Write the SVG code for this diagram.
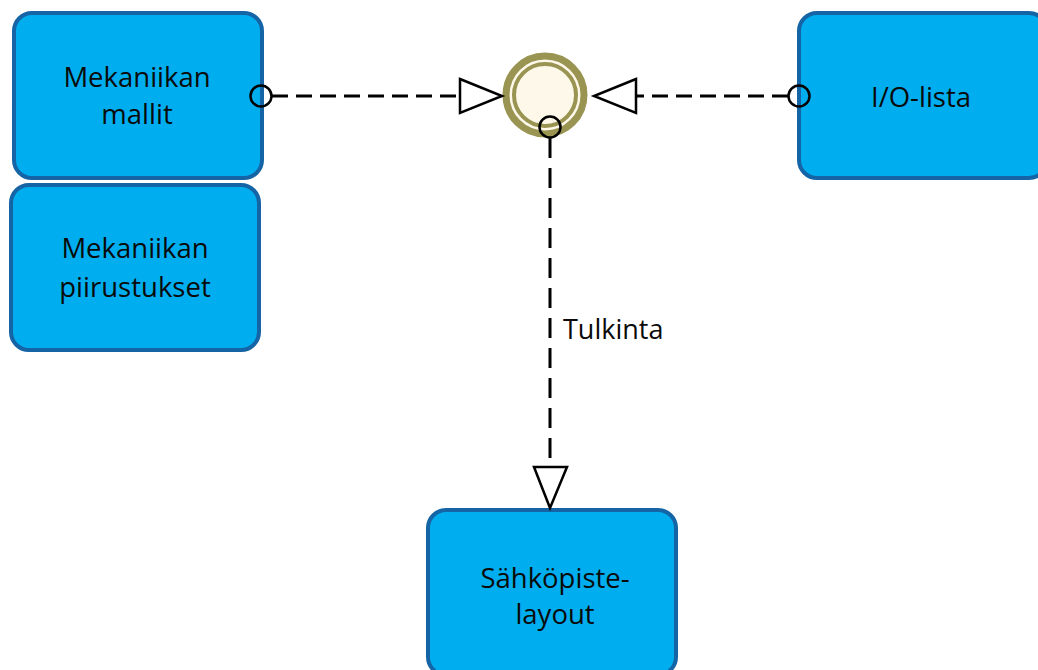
<svg xmlns="http://www.w3.org/2000/svg" width="1038" height="670" viewBox="0 0 1038 670">
<style>
.box{fill:#00AEEF;stroke:#1565A6;stroke-width:4}
.t{font-family:"Open Sans","Noto Sans",sans-serif;font-size:27.5px;fill:#0a0a0a;text-anchor:middle}
.lbl{font-family:"Open Sans","Noto Sans",sans-serif;font-size:27px;fill:#0a0a0a}
.dash{stroke:#000;stroke-width:3;fill:none}
.end{fill:none;stroke:#000;stroke-width:2.5}
.head{fill:#fff;stroke:#000;stroke-width:2.5;stroke-linejoin:miter}
</style>
<rect width="1038" height="670" fill="#fff"/>
<g id="node-mekaniikan-mallit">
<rect class="box" x="14" y="13" width="248" height="165" rx="18"/>
<text class="t" x="137" y="87">Mekaniikan</text>
<text class="t" x="137" y="124">mallit</text>
</g>
<g id="node-mekaniikan-piirustukset">
<rect class="box" x="11" y="185" width="248" height="165" rx="18"/>
<text class="t" x="135" y="258">Mekaniikan</text>
<text class="t" x="135" y="297">piirustukset</text>
</g>
<g id="node-io-lista">
<rect class="box" x="799" y="13" width="248" height="165" rx="18"/>
<text class="t" x="921" y="107">I/O-lista</text>
</g>
<g id="node-sahkopiste-layout">
<rect class="box" x="428" y="510" width="248" height="165" rx="18"/>
<text class="t" x="555" y="588">Sähköpiste-</text>
<text class="t" x="555" y="624">layout</text>
</g>
<g id="node-event">
<circle cx="545" cy="95" r="39" fill="#FDF8EA" stroke="#9A9452" stroke-width="7"/>
<circle cx="545" cy="95" r="31" fill="#FDF8EA" stroke="#9A9452" stroke-width="4"/>
</g>
<g id="connectors">
<line class="dash" x1="272" y1="96" x2="460" y2="96" stroke-dasharray="16 8"/>
<circle class="end" cx="261" cy="96" r="10.5"/>
<polygon class="head" points="460,79 502,96 460,113"/>
<line class="dash" x1="788" y1="96" x2="636" y2="96" stroke-dasharray="16 8"/>
<circle class="end" cx="799" cy="96" r="10.5"/>
<polygon class="head" points="636,79 594,96 636,113"/>
<line class="dash" x1="550" y1="138" x2="550" y2="467" stroke-dasharray="20 10"/>
<circle class="end" cx="550" cy="127" r="10.5"/>
<polygon class="head" points="534,467 550,508 567,467"/>
<text class="lbl" x="563" y="339">Tulkinta</text>
</g>
</svg>
